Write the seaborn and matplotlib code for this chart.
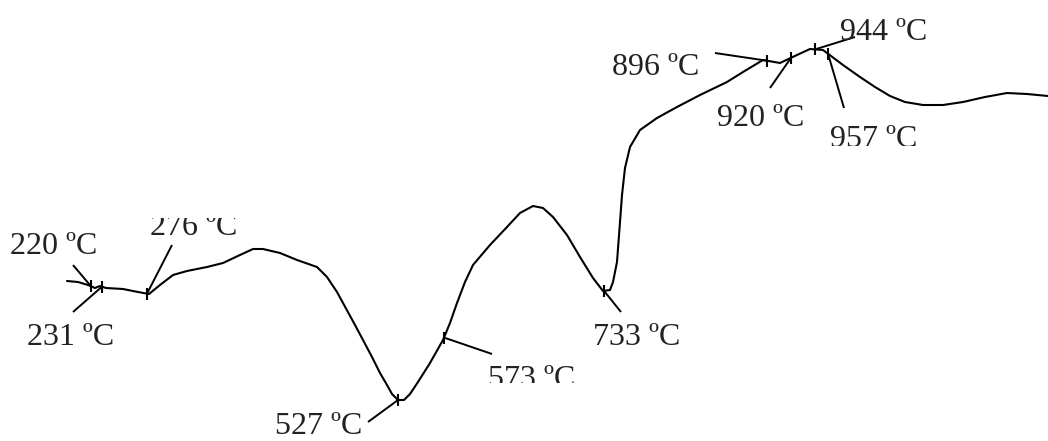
import numpy as np
import matplotlib
matplotlib.use("Agg")
import matplotlib.pyplot as plt
import seaborn as sns
from matplotlib.transforms import Bbox, TransformedBbox

# DTA trace: furnace temperature (°C) and differential signal (arbitrary units)
temperature = [196, 207, 217, 224, 229, 235, 252, 267, 278, 289, 302, 316, 336, 352,
               369, 382, 392, 409, 426, 446, 456, 466, 472, 484, 492, 501, 509, 516,
               521, 527, 533, 539, 547, 559, 572, 579, 586, 594, 602, 619, 636, 649,
               662, 672, 682, 696, 709, 722, 732, 739, 742, 746, 749, 751, 754, 759,
               769, 786, 806, 829, 856, 872, 892, 909, 926, 939, 952, 972, 989, 1004,
               1019, 1034, 1052, 1072, 1092, 1114, 1136, 1156, 1177]
signal = [16.0, 15.9, 15.6, 15.3, 15.5, 15.3, 15.2, 14.9, 14.7, 15.6, 16.6, 17.0, 17.4,
          17.8, 18.6, 19.2, 19.2, 18.8, 18.1, 17.4, 16.4, 14.9, 13.8, 11.6, 10.1, 8.4,
          6.8, 5.6, 4.7, 4.1, 4.1, 4.7, 5.9, 7.8, 10.1, 11.8, 13.8, 15.9, 17.6, 19.6,
          21.4, 22.8, 23.5, 23.3, 22.4, 20.6, 18.4, 16.3, 15.0, 15.1, 15.9, 17.9, 21.9,
          24.6, 27.3, 29.4, 31.1, 32.3, 33.4, 34.6, 35.9, 36.9, 38.1, 37.8, 38.6, 39.2,
          39.1, 37.6, 36.4, 35.4, 34.5, 33.9, 33.6, 33.6, 33.9, 34.4, 34.8, 34.7, 34.5]

# Characteristic temperatures marked on the trace
events = [220, 231, 276, 527, 573, 733, 896, 920, 944, 957]
event_labels = [f"{t} ºC" for t in events]

# Label placement: (text x, text baseline y, leader end x, leader end y,
#                   optional clip window (y_low, y_high)) in data units
placement = {
    220: (139, 18.7, 202, 17.6, None),
    231: (156, 9.6, 202, 12.9, None),
    276: (279, 20.6, 301, 19.6, (0, 22.3)),
    527: (404, 0.75, 497, 1.9, None),
    573: (617, 5.4, 621, 8.7, (5.8, 44)),
    733: (722, 9.6, 750, 12.9, None),
    896: (741, 36.6, 844, 38.8, None),
    920: (846, 31.5, 899, 35.3, None),
    944: (969, 40.1, 984, 40.4, None),
    957: (959, 29.4, 973, 33.3, (29.55, 44)),
}

sns.set_theme(style="white")
plt.rcParams["font.family"] = ["Liberation Serif", "DejaVu Serif"]

fig = plt.figure(figsize=(10.48, 4.41), dpi=100)
ax = fig.add_axes([0, 0, 1, 1])

sns.lineplot(x=temperature, y=signal, sort=False, estimator=None,
             color="black", linewidth=1.5, ax=ax)
ax.lines[-1].set_solid_joinstyle("round")

event_y = np.interp(events, temperature, signal)
ax.plot(events, event_y, linestyle="none", marker="|", markersize=9,
        markeredgewidth=1.5, color="black")

for t, ty, lab in zip(events, event_y, event_labels):
    tx, tb, lx, ly, clip = placement[t]
    ax.plot([t, lx], [ty, ly], color="black", linewidth=1.4,
            solid_capstyle="butt")
    txt = ax.text(tx, tb, lab, fontsize=23, color="#222222",
                  ha="left", va="baseline")
    if clip is not None:
        box = Bbox([[tx - 20, clip[0]], [tx + 150, clip[1]]])
        txt.set_clip_box(TransformedBbox(box, ax.transData))
        txt.set_clip_on(True)

ax.set_xlim(129, 129 + 1048)
ax.set_ylim(0, 44.1)
ax.set_axis_off()

fig.savefig("out.png", dpi=100, facecolor="white")
